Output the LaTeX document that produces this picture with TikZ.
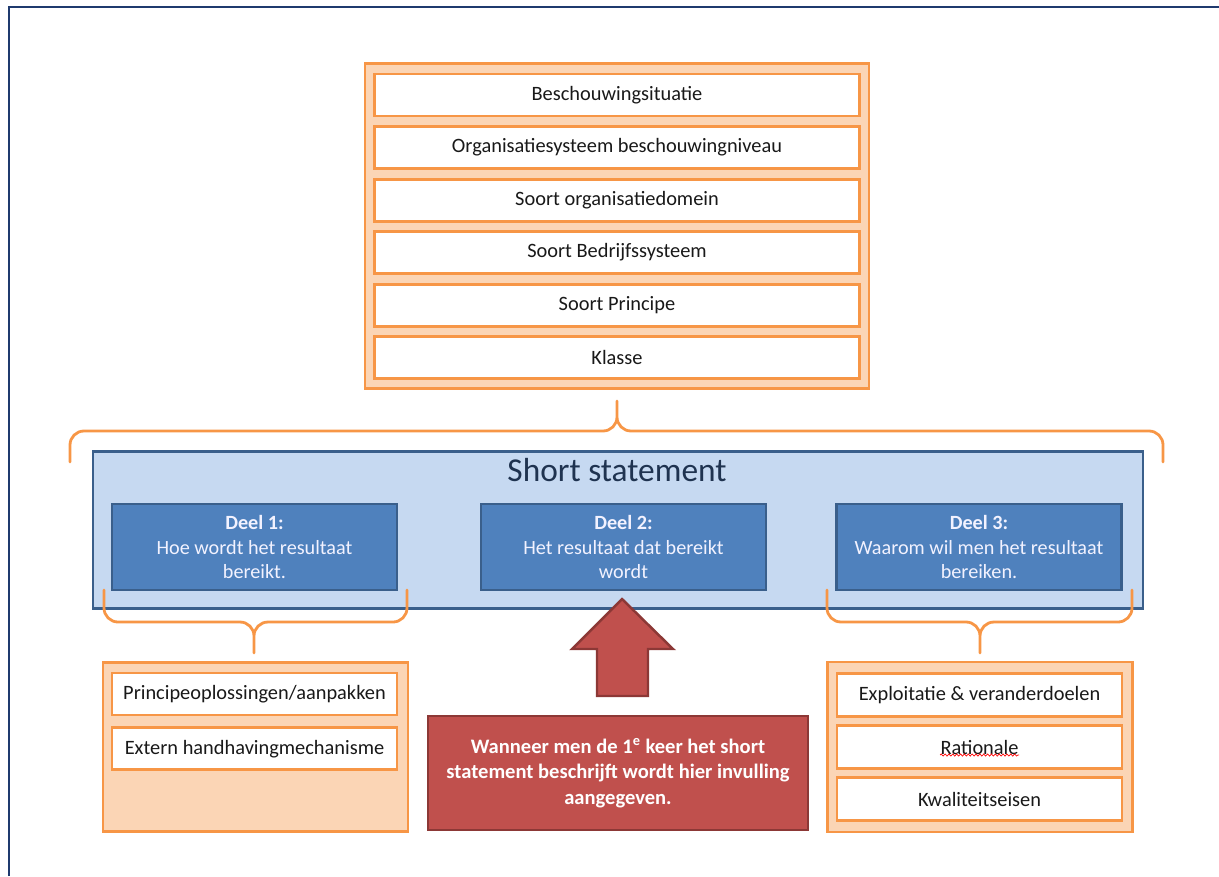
\documentclass[tikz,border=0pt]{standalone}
\usepackage{fontspec}
\setmainfont{Carlito}
\usetikzlibrary{positioning,decorations.pathmorphing}

\definecolor{frameblue}{HTML}{1F3A6E}
\definecolor{ornline}{HTML}{F79646}
\definecolor{ornfill}{HTML}{FBD5B5}
\definecolor{ssfill}{HTML}{C6D9F1}
\definecolor{ssline}{HTML}{3A5F8B}
\definecolor{deelfill}{HTML}{4F81BD}
\definecolor{redfill}{HTML}{C0504D}
\definecolor{redline}{HTML}{8C3836}
\definecolor{titletext}{HTML}{1F3350}

\begin{document}
\begin{tikzpicture}[
    x=0.02cm, y=-0.02cm,
    frame/.style={draw=frameblue, line width=1.5pt},
    group/.style={draw=ornline, fill=ornfill, line width=1.6pt},
    item/.style={draw=ornline, fill=white, line width=1.6pt, text=black!90,
      minimum height=0.84cm, inner sep=1pt, font=\fontsize{11.6}{13}\selectfont},
    deel/.style={draw=ssline, fill=deelfill, line width=1.4pt, text=white!95!blue,
      minimum width=5.7cm, minimum height=1.72cm, align=center,
      font=\fontsize{11.5}{14}\selectfont},
    brace/.style={draw=ornline, line width=1.6pt, line cap=round},
    redbox/.style={draw=redline, fill=redfill, line width=1.4pt, text=white,
      align=center, font=\bfseries\fontsize{11.7}{14.5}\selectfont}
  ]
    \useasboundingbox (0,0) rectangle (1219,876);
    \draw[frame] (9,876) -- (9,7) -- (1219,7);

    % bovenste blok
    \node[group, minimum width=10.08cm, minimum height=6.5cm] (top) at (617,226) {};
    \node[item, minimum width=9.7cm] (t1) at (617,95) {Beschouwingsituatie};
    \node[item, minimum width=9.7cm, below=0.155cm of t1] (t2) {Organisatiesysteem beschouwingniveau};
    \node[item, minimum width=9.7cm, below=0.155cm of t2] (t3) {Soort organisatiedomein};
    \node[item, minimum width=9.7cm, below=0.155cm of t3] (t4) {Soort Bedrijfssysteem};
    \node[item, minimum width=9.7cm, below=0.155cm of t4] (t5) {Soort Principe};
    \node[item, minimum width=9.7cm, below=0.155cm of t5] (t6) {Klasse};

    % short statement
    \node[draw=ssline, fill=ssfill, line width=1.5pt, minimum width=21cm, minimum height=3.14cm] (ss) at (618,530) {};
    \node[text=titletext, font=\fontsize{19}{22}\selectfont] (sstitle) at (617,470) {Short statement};
    \node[deel] (d1) at (254.5,547) {\textbf{Deel 1:}\\Hoe wordt het resultaat\\bereikt.};
    \node[deel] (d2) at (623.5,547) {\textbf{Deel 2:}\\Het resultaat dat bereikt\\wordt};
    \node[deel] (d3) at (979,547) {\textbf{Deel 3:}\\Waarom wil men het resultaat\\bereiken.};

    % accolades
    \draw[brace] (70,462) -- (70,445) to[out=90,in=180] (84,431) -- (603,431) to[out=0,in=-90] (617,417) -- (617,401)
      (617,417) to[out=-90,in=180] (631,431) -- (1149,431) to[out=0,in=90] (1163,445) -- (1163,462);
    \draw[brace] (104,590) -- (104,608) to[out=-90,in=180] (118,622) -- (240,622) to[out=0,in=90] (254,636) -- (254,653)
      (254,636) to[out=90,in=180] (268,622) -- (393,622) to[out=0,in=-90] (407,608) -- (407,590);
    \draw[brace] (827,590) -- (827,608) to[out=-90,in=180] (841,622) -- (966,622) to[out=0,in=90] (980,636) -- (980,653)
      (980,636) to[out=90,in=180] (994,622) -- (1118,622) to[out=0,in=-90] (1132,608) -- (1132,590);

    % onderste blokken
    \node[group, minimum width=6.1cm, minimum height=3.38cm] (left) at (255.5,747) {};
    \node[item, minimum width=5.7cm] (l1) at (254.5,694) {Principeoplossingen/aanpakken};
    \node[item, minimum width=5.7cm, below=0.2cm of l1] (l2) {Extern handhavingmechanisme};

    \node[group, minimum width=6.1cm, minimum height=3.4cm] (right) at (980,747) {};
    \node[item, minimum width=5.7cm, minimum height=0.86cm] (r1) at (979.5,695) {Exploitatie \& veranderdoelen};
    \node[item, minimum width=5.7cm, minimum height=0.86cm, below=0.124cm of r1] (r2) {Rationale};
    \node[item, minimum width=5.7cm, minimum height=0.86cm, below=0.124cm of r2] (r3) {Kwaliteitseisen};
    \draw[red, line width=0.4pt, decorate, decoration={snake, amplitude=0.6pt, segment length=2.2pt}]
      (940,755) -- (1019,755);

    % toelichting
    \node[redbox, minimum width=7.6cm, minimum height=2.28cm] (note) at (618,773)
      {Wanneer men de 1\textsuperscript{e} keer het short\\statement beschrijft wordt hier invulling\\aangegeven.};
    \draw[draw=redline, fill=redfill, line width=1.4pt, line join=miter]
      (597,696) -- (597,649) -- (572,649) -- (622,599) -- (673,649) -- (648,649) -- (648,696) -- cycle;
  \end{tikzpicture}
\end{document}
